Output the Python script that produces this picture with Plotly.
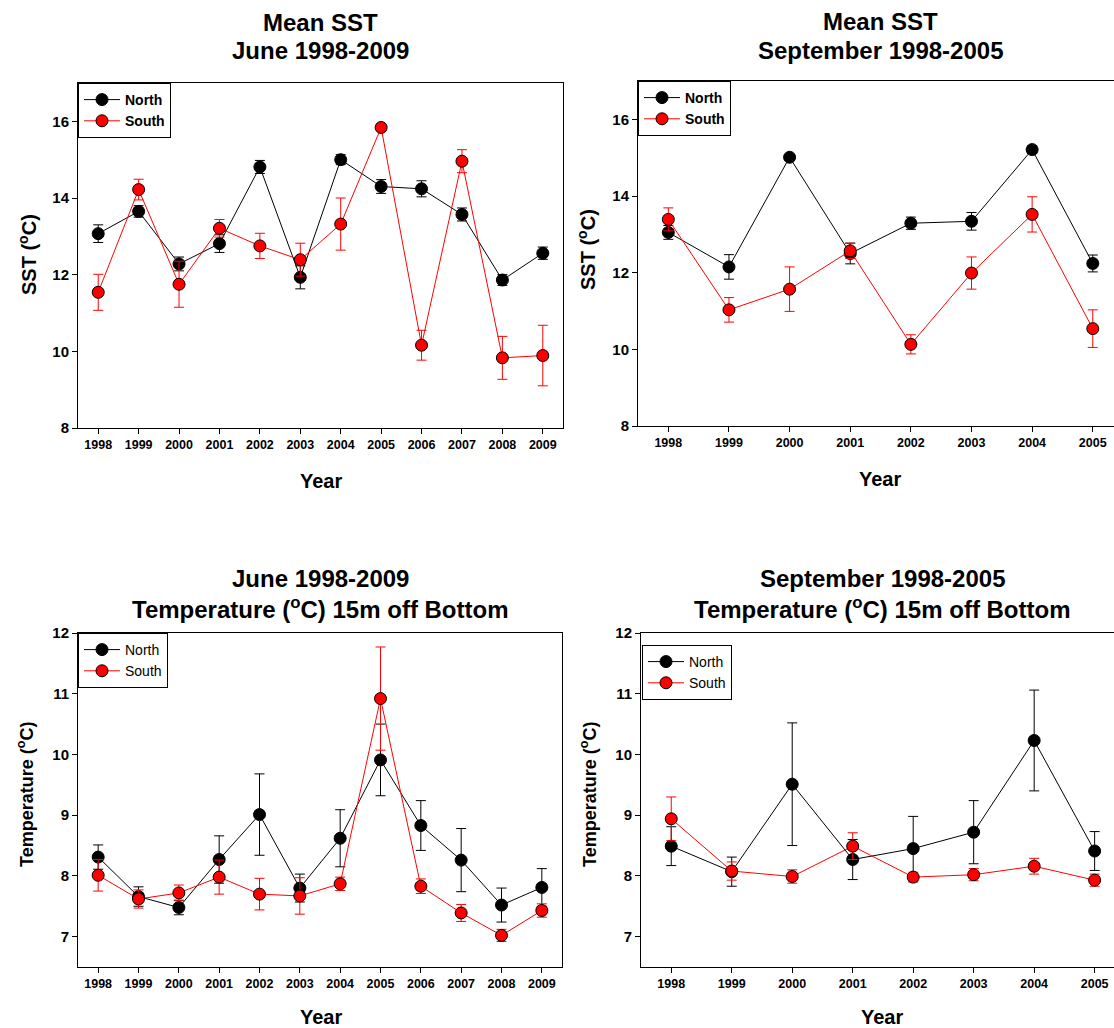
import plotly.graph_objects as go

# ---------------- data ----------------
years_jun = [1998, 1999, 2000, 2001, 2002, 2003, 2004, 2005, 2006, 2007, 2008, 2009]
years_sep = [1998, 1999, 2000, 2001, 2002, 2003, 2004, 2005]

sst_jun_north = [13.07, 13.65, 12.28, 12.81, 14.81, 11.93, 15.00, 14.30, 14.24, 13.57, 11.86, 12.56]
sst_jun_north_err = [0.23, 0.15, 0.18, 0.23, 0.17, 0.30, 0.13, 0.18, 0.21, 0.17, 0.14, 0.16]
sst_jun_south = [11.54, 14.22, 11.75, 13.21, 12.75, 12.39, 13.32, 15.84, 10.16, 14.96, 9.83, 9.89]
sst_jun_south_err = [0.47, 0.27, 0.60, 0.23, 0.33, 0.43, 0.68, 0.08, 0.39, 0.30, 0.56, 0.79]

sst_sep_north = [13.05, 12.15, 15.01, 12.50, 13.29, 13.34, 15.21, 12.24]
sst_sep_north_err = [0.18, 0.32, 0.07, 0.27, 0.16, 0.23, 0.10, 0.22]
sst_sep_south = [13.39, 11.03, 11.57, 12.57, 10.13, 11.99, 13.52, 10.54]
sst_sep_south_err = [0.30, 0.32, 0.58, 0.20, 0.25, 0.42, 0.46, 0.49]

bt_jun_north = [8.31, 7.66, 7.48, 8.27, 9.01, 7.80, 8.62, 9.91, 8.83, 8.26, 7.52, 7.81]
bt_jun_north_err = [0.20, 0.16, 0.12, 0.39, 0.67, 0.23, 0.47, 0.59, 0.41, 0.52, 0.28, 0.31]
bt_jun_south = [8.01, 7.62, 7.72, 7.98, 7.70, 7.67, 7.87, 10.92, 7.83, 7.39, 7.02, 7.43]
bt_jun_south_err = [0.26, 0.15, 0.13, 0.28, 0.26, 0.30, 0.11, 0.85, 0.12, 0.14, 0.10, 0.11]

bt_sep_north = [8.49, 8.07, 9.51, 8.27, 8.45, 8.72, 10.23, 8.41]
bt_sep_north_err = [0.32, 0.24, 1.01, 0.33, 0.53, 0.52, 0.83, 0.32]
bt_sep_south = [8.94, 8.08, 7.99, 8.49, 7.98, 8.02, 8.16, 7.93]
bt_sep_south_err = [0.36, 0.15, 0.11, 0.22, 0.08, 0.10, 0.13, 0.10]

sst_ticks = [8, 10, 12, 14, 16]
bt_ticks = [7, 8, 9, 10, 11, 12]

title_lines = [
    ("Mean SST", "June 1998-2009"),
    ("Mean SST", "September 1998-2005"),
    ("June 1998-2009", "Temperature (<sup>o</sup>C) 15m off Bottom"),
    ("September 1998-2005", "Temperature (<sup>o</sup>C) 15m off Bottom"),
]
ylabels = ["SST (<sup>o</sup>C)", "SST (<sup>o</sup>C)",
           "Temperature (<sup>o</sup>C)", "Temperature (<sup>o</sup>C)"]
xlabel = "Year"

# ---------------- layout helpers ----------------
W, H = 1114, 1028
FONT = "Liberation Sans, Arial, sans-serif"


def px(x):
    return x / W


def py(y):
    return 1 - y / H


panels = [
    dict(xd=(78, 563), yd=(83, 428), yrs=years_jun, n=sst_jun_north, ne=sst_jun_north_err,
         s=sst_jun_south, se=sst_jun_south_err, yt=sst_ticks, yr=[8, 17], xr=[1997.5, 2009.5],
         mir=True, leg=(78, 83), bold=True, tx=320, ty=(22, 50), ylab=(27, 254), xlab=(321, 481), ylsize=20),
    dict(xd=(638, 1114), yd=(81, 426), yrs=years_sep, n=sst_sep_north, ne=sst_sep_north_err,
         s=sst_sep_south, se=sst_sep_south_err, yt=sst_ticks, yr=[8, 17], xr=[1997.5, 2005.35],
         mir=False, leg=(638, 81), bold=True, tx=880, ty=(21, 50), ylab=(586, 250), xlab=(880, 479), ylsize=20),
    dict(xd=(78, 562), yd=(633, 967), yrs=years_jun, n=bt_jun_north, ne=bt_jun_north_err,
         s=bt_jun_south, se=bt_jun_south_err, yt=bt_ticks, yr=[6.5, 12], xr=[1997.5, 2009.5],
         mir=True, leg=(78, 633), bold=False, tx=320, ty=(578, 608), ylab=(25, 795), xlab=(321, 1017), ylsize=18),
    dict(xd=(641, 1114), yd=(633, 967), yrs=years_sep, n=bt_sep_north, ne=bt_sep_north_err,
         s=bt_sep_south, se=bt_sep_south_err, yt=bt_ticks, yr=[6.5, 12], xr=[1997.5, 2005.32],
         mir=False, leg=(642, 645), bold=False, tx=882, ty=(578, 608), ylab=(588, 795), xlab=(882, 1017), ylsize=18),
]

fig = go.Figure()
annotations = []
layout_upd = {}

for i, p in enumerate(panels, start=1):
    sfx = "" if i == 1 else str(i)
    xa, ya = "x" + sfx, "y" + sfx
    legname = "legend" if i == 1 else "legend" + str(i)
    for name, vals, errs, col in (("North", p["n"], p["ne"], "black"),
                                  ("South", p["s"], p["se"], "red")):
        fig.add_trace(go.Scatter(
            x=p["yrs"], y=vals, name=name, mode="lines+markers",
            xaxis=xa, yaxis=ya, legend=legname,
            line=dict(color=col, width=1),
            marker=dict(color=col, size=12, line=dict(color="black", width=1)),
            error_y=dict(type="data", array=errs, visible=True, color=col, thickness=1, width=5),
        ))
    layout_upd["xaxis" + sfx] = dict(
        domain=[px(p["xd"][0]), px(p["xd"][1])], anchor=ya, range=p["xr"],
        tickvals=p["yrs"], ticktext=[str(y) for y in p["yrs"]],
        ticks="outside", ticklen=5, tickcolor="black", showline=True, linecolor="black", linewidth=1,
        mirror=True, showgrid=False, zeroline=False, automargin=False,
        tickfont=dict(family=FONT, size=12.5, color="black", weight="bold"),
    )
    layout_upd["yaxis" + sfx] = dict(
        domain=[py(p["yd"][1]), py(p["yd"][0])], anchor=xa, range=p["yr"],
        tickvals=p["yt"], ticktext=[str(t) for t in p["yt"]],
        ticks="outside", ticklen=5, tickcolor="black", showline=True, linecolor="black", linewidth=1,
        mirror=p["mir"], showgrid=False, zeroline=False, automargin=False,
        tickfont=dict(family=FONT, size=15, color="black", weight="bold"),
    )
    layout_upd[legname] = dict(
        x=px(p["leg"][0]), y=py(p["leg"][1]), xanchor="left", yanchor="top",
        bgcolor="white", bordercolor="black", borderwidth=1,
        font=dict(family=FONT, size=14, color="black", weight="bold" if p["bold"] else "normal"),
        tracegroupgap=0, itemwidth=36,
    )
    for line_text, ly in zip(title_lines[i - 1], p["ty"]):
        annotations.append(dict(
            text=line_text, x=px(p["tx"]), y=py(ly), xref="paper", yref="paper",
            xanchor="center", yanchor="middle", showarrow=False,
            font=dict(family=FONT, size=24, color="black", weight="bold"),
        ))
    annotations.append(dict(
        text=ylabels[i - 1], x=px(p["ylab"][0]), y=py(p["ylab"][1]), xref="paper", yref="paper",
        xanchor="center", yanchor="middle", showarrow=False, textangle=-90,
        font=dict(family=FONT, size=p["ylsize"], color="black", weight="bold"),
    ))
    annotations.append(dict(
        text=xlabel, x=px(p["xlab"][0]), y=py(p["xlab"][1]), xref="paper", yref="paper",
        xanchor="center", yanchor="middle", showarrow=False,
        font=dict(family=FONT, size=20, color="black", weight="bold"),
    ))

fig.update_layout(
    template="none",
    width=W, height=H, margin=dict(l=0, r=0, t=0, b=0, pad=0), autosize=False,
    paper_bgcolor="white", plot_bgcolor="white",
    font=dict(family=FONT, color="black"),
    annotations=annotations,
    **layout_upd,
)

fig.write_html("out.html", config={"displayModeBar": False},
               post_script="document.body.style.margin='0';")
